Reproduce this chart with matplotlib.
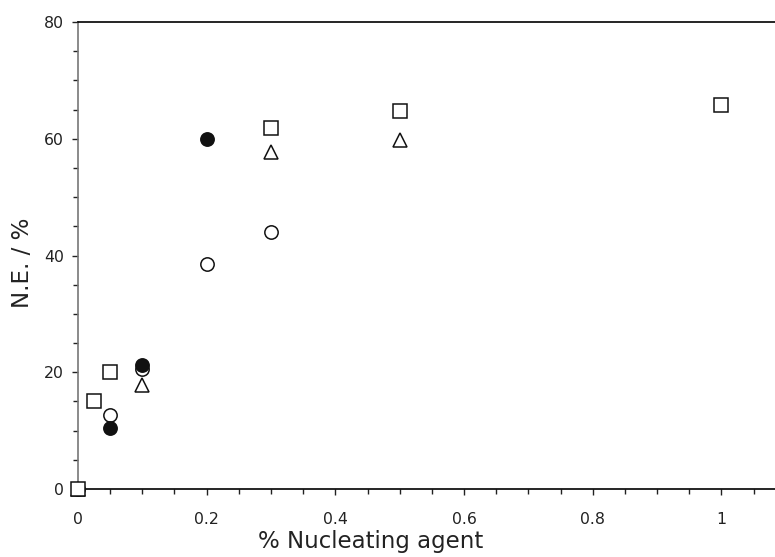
import matplotlib.pyplot as plt
from matplotlib.ticker import MultipleLocator

plt.rcParams['font.family'] = ['DejaVu Sans']

# open squares
sq_x = [0, 0.025, 0.05, 0.3, 0.5, 1.0]
sq_y = [0, 15, 20, 61.8, 64.8, 65.8]
# open triangles
tri_x = [0, 0.1, 0.3, 0.5]
tri_y = [0, 17.8, 57.8, 59.8]
# open circles
oc_x = [0, 0.05, 0.1, 0.2, 0.3]
oc_y = [0, 12.7, 20.6, 38.6, 44.0]
# filled circles
fc_x = [0.05, 0.1, 0.2]
fc_y = [10.5, 21.3, 60.0]

fig = plt.figure(figsize=(7.75, 5.57), dpi=100)
ax = fig.add_axes([0.1006, 0.122, 0.9, 0.8385])

ms = 9.6
ax.plot(oc_x, oc_y, 'o', mfc='white', mec='#111111', mew=1.1, ms=ms, ls='none', clip_on=False, zorder=3)
ax.plot(fc_x, fc_y, 'o', mfc='#111111', mec='#111111', mew=1.1, ms=ms, ls='none', clip_on=False, zorder=4)
ax.plot(tri_x, tri_y, '^', mfc='white', mec='#111111', mew=1.1, ms=ms, ls='none', clip_on=False, zorder=3)
ax.plot(sq_x, sq_y, 's', mfc='white', mec='#111111', mew=1.1, ms=ms, ls='none', clip_on=False, zorder=5)

ax.set_xlim(0, 1.084)
ax.set_ylim(0, 80)
ax.xaxis.set_minor_locator(MultipleLocator(0.05))
ax.yaxis.set_major_locator(MultipleLocator(20))
ax.yaxis.set_minor_locator(MultipleLocator(5))
ax.set_xticks([0, 0.2, 0.4, 0.6, 0.8, 1.0])
ax.set_xticklabels(['0', '0.2', '0.4', '0.6', '0.8', '1'])

ax.spines['right'].set_visible(False)
ax.spines['left'].set_color('#777777')
for s in ['left', 'bottom', 'top']:
    ax.spines[s].set_linewidth(1.2)

ax.tick_params(which='both', direction='out', colors='#222222', labelsize=11.3,
               top=False, right=False, width=1)
ax.tick_params(which='major', length=4.2)
ax.tick_params(which='minor', length=3.8)
ax.tick_params(axis='x', pad=12)
ax.tick_params(axis='y', pad=6)

ax.set_xlabel('% Nucleating agent', fontsize=16.5, color='#222222')
ax.set_ylabel('N.E. / %', fontsize=16.5, color='#222222')
ax.xaxis.set_label_coords(0.419, -0.088)
ax.yaxis.set_label_coords(-0.063, 0.484)

fig.savefig('out.png', dpi=100)
